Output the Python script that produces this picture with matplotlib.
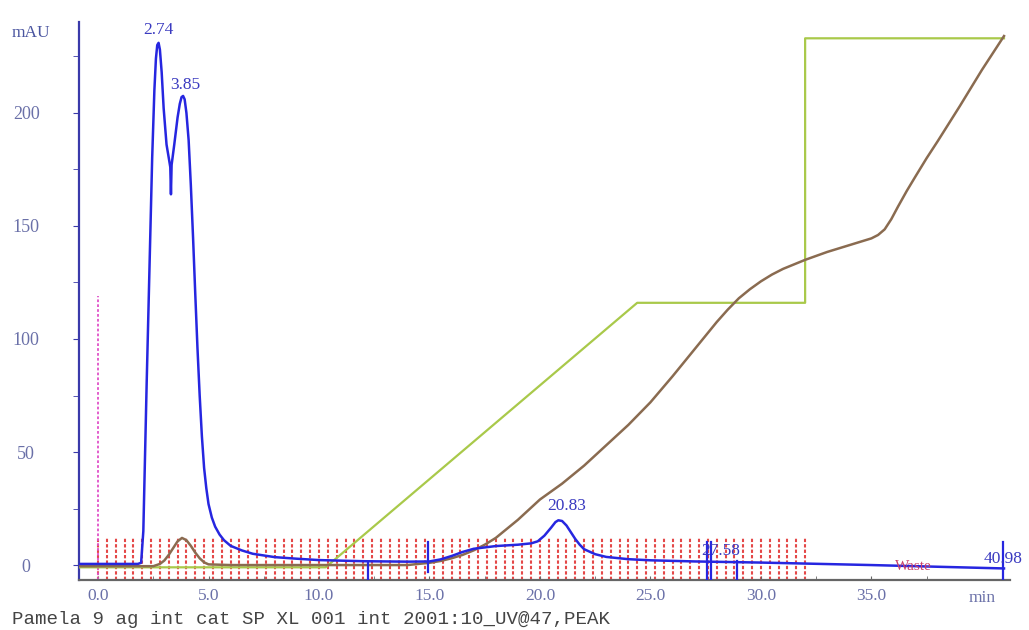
import numpy as np
import matplotlib
matplotlib.use("Agg")
import matplotlib.pyplot as plt

# UV trace (min, mAU)
uv_time = [-0.86, 1.8, 1.95, 2.05, 2.2, 2.35, 2.45, 2.55, 2.62, 2.68, 2.74,
           2.8, 2.88, 2.97, 3.1, 3.22, 3.27, 3.3, 3.33, 3.45, 3.6, 3.7, 3.78,
           3.85, 3.92, 4.0, 4.1, 4.2, 4.3, 4.4, 4.5, 4.6, 4.7, 4.8, 4.9, 5.0,
           5.15, 5.3, 5.5, 5.7, 6.0, 6.5, 7.0, 8.0, 9.0, 10.0, 12.0, 14.0,
           15.0, 15.5, 16.0, 16.5, 17.0, 18.0, 19.0, 19.6, 19.9, 20.2, 20.5,
           20.7, 20.83, 21.0, 21.2, 21.4, 21.6, 21.8, 22.0, 22.5, 23.0, 24.0,
           25.0, 27.0, 30.0, 35.0, 41.0]
uv_mau = [0.5, 0.5, 1, 15, 80, 140, 180, 210, 224, 230, 231,
          228, 218, 202, 186, 179, 176, 164, 177, 186, 198, 204, 207,
          207.5, 206, 200, 188, 168, 145, 120, 96, 75, 57, 43, 34, 27,
          21, 17, 13.5, 11, 8.5, 6.5, 5, 3.5, 2.8, 2.2, 1.7, 1.5,
          1.6, 2.5, 4, 5.8, 7.2, 8.4, 9, 9.6, 10.5, 13, 16.5,
          19, 19.8, 19.5, 17.5, 14.5, 11.5, 9, 7, 4.8, 3.6, 2.6,
          2.1, 1.6, 1.1, 0, -1.5]

# conductivity trace, scaled to the mAU axis
cond_time = [-0.86, 2.5, 2.8, 3.0, 3.2, 3.4, 3.6, 3.8, 4.0, 4.2, 4.4, 4.6,
             4.8, 5.0, 6.0, 14.0, 15.0, 15.5, 16.0, 16.5, 17.0, 17.5, 18.0,
             18.5, 19.0, 19.5, 20.0, 20.5, 21.0, 22.0, 23.0, 24.0, 25.0, 26.0,
             27.0, 27.5, 28.0, 28.5, 29.0, 29.5, 30.0, 30.5, 31.0, 32.0, 33.0,
             34.0, 34.5, 35.0, 35.3, 35.6, 35.9, 36.2, 36.6, 37.0, 37.5, 38.0,
             39.0, 40.0, 41.0]
cond_val = [-0.5, -0.5, 0.5, 2, 4.5, 7.5, 10.5, 12, 11, 8.5, 5.5, 3,
            1.2, 0.3, 0, 0, 1, 1.8, 3, 4.5, 6.5, 9, 12,
            16, 20, 24.5, 29, 32.5, 36, 44, 53, 62, 72, 83.5,
            95.5, 101.5, 107.5, 113, 118, 122, 125.5, 128.5, 131, 135, 138.5,
            141.5, 143, 144.5, 146, 148.5, 153, 158.5, 165.5, 172, 180, 187.5,
            203, 219, 234]

# concentration of buffer B (gradient), scaled to the mAU axis
conc_time = [-0.86, 10.3, 24.4, 32.0, 32.0, 41.0]
conc_val = [-1, -1, 116, 116, 233, 233]

# fraction marks
frac_start, frac_end, frac_step = 0.0, 32.0, 0.4
frac_times = np.arange(frac_start, frac_end + 0.01, frac_step)

# peak limit marks (min, bottom, top)
peak_marks = [(12.2, -6.6, 1.5), (14.95, -3, 10), (27.55, -6.6, 10),
              (27.73, -6.6, 10), (28.9, -6.6, 2), (40.97, -6.6, 10)]

# peak labels (text, x, y)
peak_labels = [("2.74", 2.74, 233), ("3.85", 3.95, 209),
               ("20.83", 21.2, 22.5), ("27.58", 28.2, 2.5)]

x_ticks = [0, 5, 10, 15, 20, 25, 30, 35]
y_ticks = [0, 50, 100, 150, 200]

c_uv = "#2626e0"
c_cond = "#8a6b50"
c_conc = "#a9c94a"
c_frac = "#e02828"
c_inj = "#e050c8"
c_tick = "#6a70a8"

plt.rcParams['font.family'] = ['Liberation Serif', 'DejaVu Serif']

fig = plt.figure(figsize=(10.29, 6.3), dpi=100)
ax = fig.add_axes([0.0768, 0.0794, 0.9047, 0.886])

# fractions
for t in frac_times:
    ax.plot([t, t], [-6.6, 12], color=c_frac, lw=1.5, alpha=0.85,
            linestyle=(0, (1.6, 1.0)), zorder=1)
ax.plot([0, 0], [-6.6, 119], color=c_inj, lw=1.3,
        linestyle=(0, (1.5, 1.2)), zorder=2)

ax.plot(conc_time, conc_val, color=c_conc, lw=1.6, zorder=3)
ax.plot(cond_time, cond_val, color=c_cond, lw=1.8, zorder=4)
ax.plot(uv_time, uv_mau, color=c_uv, lw=1.8, zorder=5)

for t, lo, hi in peak_marks:
    ax.plot([t, t], [lo, hi], color=c_uv, lw=1.6, zorder=6)

for txt, x, y in peak_labels:
    ax.text(x, y, txt, color="#3a3ac0", fontsize=12.5, ha="center",
            va="bottom", zorder=7)
ax.text(40.95, -1, "40.98", color="#3a3ac0", fontsize=12.5, ha="center",
        va="bottom", zorder=7)
ax.text(36.9, -3.5, "Waste", color="#c8406a", fontsize=11, ha="center",
        va="bottom", zorder=7)

ax.set_xlim(-0.86, 41.27)
ax.set_ylim(-6.6, 240.3)

for s in ("top", "right"):
    ax.spines[s].set_visible(False)
ax.spines["left"].set_color("#3a3aaa")
ax.spines["left"].set_linewidth(1.6)
ax.spines["bottom"].set_color("#666666")
ax.spines["bottom"].set_linewidth(1.6)

ax.set_xticks(x_ticks)
ax.set_xticklabels([f"{v:.1f}" for v in x_ticks])
ax.set_xticks(np.arange(2.5, 41, 5), minor=True)
ax.set_yticks(y_ticks)
ax.set_yticklabels([str(v) for v in y_ticks])
ax.set_yticks([25, 75, 125, 175, 225], minor=True)

ax.tick_params(axis="x", which="both", direction="in", length=3,
               color="#666666", labelcolor=c_tick, labelsize=12.5, pad=6)
ax.tick_params(axis="y", which="both", direction="out", length=4,
               color="#3a3aaa", labelcolor=c_tick, labelsize=13, pad=34)
for lab in ax.get_yticklabels():
    lab.set_horizontalalignment("center")

fig.text(12 / 1029, 1 - 33 / 630, "mAU", color="#4a55a0", fontsize=12.5,
         ha="left", va="center")
fig.text(982 / 1029, 1 - 598 / 630, "min", color=c_tick, fontsize=12.5,
         ha="center", va="center")
fig.text(12 / 1029, 1 - 620 / 630,
         "Pamela 9 ag int cat SP XL 001 int 2001:10_UV@47,PEAK",
         family="Liberation Mono", color="#444444", fontsize=13.8,
         ha="left", va="center")

fig.savefig("out.png", dpi=100)
